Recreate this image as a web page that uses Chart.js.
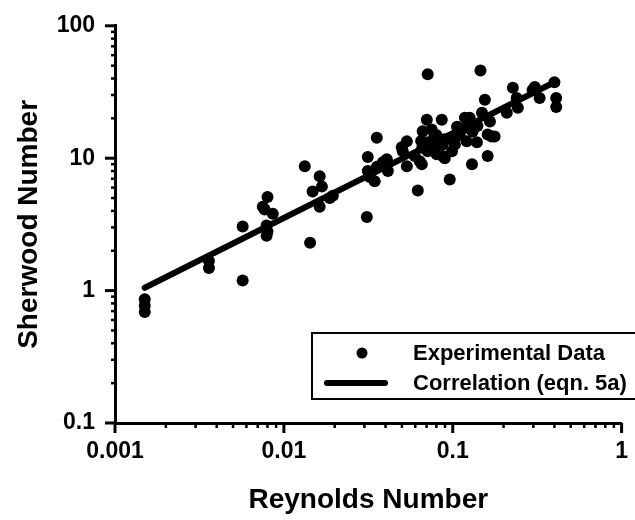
<!DOCTYPE html>
<html>
<head>
<meta charset="utf-8">
<script src="https://cdn.jsdelivr.net/npm/chart.js@4.4.1/dist/chart.umd.min.js"></script>
<style>
  body { margin: 0; background: #fff; }
  #wrap { width: 635px; height: 520px; }
</style>
</head>
<body>
<div id="wrap"><canvas id="chart" width="635" height="520"></canvas></div>
<script>
'use strict';

// experimental points
var reynolds = [
  0.0015, 0.0015, 0.0015, 0.0036, 0.0036, 0.0057, 0.0057,
  0.0075, 0.0080, 0.0086, 0.0079, 0.0080, 0.0079, 0.0077,
  0.0143, 0.0133, 0.0163, 0.0148, 0.0168, 0.0163, 0.0187, 0.0195,
  0.0355, 0.0314, 0.0355, 0.0385, 0.0345, 0.0314, 0.0323, 0.031, 0.0407, 0.0413,
  0.0535, 0.0499, 0.0596, 0.0535, 0.0656, 0.0506, 0.0638, 0.0621,
  0.0702, 0.0861, 0.0664, 0.0782, 0.0897, 0.0873, 0.0711, 0.0711, 0.0873, 0.0804, 0.0897,
  0.075, 0.065, 0.080, 0.066, 0.078,
  0.0711, 0.096, 0.099, 0.0987, 0.106, 0.103,
  0.126, 0.149, 0.121, 0.139, 0.161, 0.118, 0.131, 0.170, 0.130, 0.161,
  0.110, 0.140, 0.120,
  0.146, 0.155, 0.166, 0.177, 0.209, 0.227, 0.239, 0.243,
  0.306, 0.297, 0.327, 0.40, 0.41, 0.41
];
var sherwood = [
  0.86, 0.77, 0.69, 1.67, 1.48, 1.19, 3.05,
  4.3, 5.1, 3.8, 3.1, 2.8, 2.6, 4.1,
  2.3, 8.7, 7.3, 5.6, 6.1, 4.3, 5.0, 5.2,
  14.3, 10.2, 8.6, 9.3, 6.7, 8.0, 7.2, 3.6, 9.8, 8.0,
  13.4, 12.1, 10.4, 8.7, 9.0, 11.3, 9.5, 5.7,
  19.5, 19.5, 16.0, 12.7, 13.9, 10.4, 11.3, 13.2, 12.7, 10.7, 10.0,
  16.5, 13.5, 15.0, 12.0, 14.8,
  43, 6.9, 11.3, 13.9, 17.3, 12.7,
  20.2, 22.0, 13.4, 13.2, 15.1, 20.2, 15.9, 14.6, 9.0, 10.4,
  15.0, 17.5, 17.0,
  46, 27.6, 18.9, 14.6, 22.0, 34, 28.5, 24,
  34.5, 32.7, 28.5, 37.5, 28.5, 24.4
];

// correlation (eqn. 5a) end points
var corrRe = [0.0015, 0.40];
var corrSh = [1.05, 37.5];

// axis ticks
var xMajor = [0.001, 0.01, 0.1, 1];
var xLabels = ['0.001', '0.01', '0.1', '1'];
var yMajor = [0.1, 1, 10, 100];
var yLabels = ['0.1', '1', '10', '100'];
var minorSteps = [2, 3, 4, 5, 6, 7, 8, 9];

var legendNames = ['Experimental Data', 'Correlation (eqn. 5a)'];

function buildTicks(majors) {
  var out = [];
  majors.forEach(function (m, i) {
    out.push({ value: m, major: true });
    if (i < majors.length - 1) {
      minorSteps.forEach(function (s) { out.push({ value: m * s, major: false }); });
    }
  });
  return out;
}

function labelFor(value, majors, labels) {
  for (var i = 0; i < majors.length; i++) {
    if (Math.abs(Math.log10(value) - Math.log10(majors[i])) < 1e-6) return labels[i];
  }
  return '';
}

var FONT = '"Liberation Sans", Arial, sans-serif';

// tick marks: long for decades, short otherwise
var tickMarks = {
  id: 'tickMarks',
  afterDraw: function (chart) {
    var ctx = chart.ctx;
    var xs = chart.scales.x, ys = chart.scales.y;
    ctx.save();
    ctx.strokeStyle = '#000';
    xs.ticks.forEach(function (t) {
      var px = xs.getPixelForValue(t.value);
      ctx.lineWidth = t.major ? 3 : 2.5;
      ctx.beginPath();
      ctx.moveTo(px, xs.top);
      ctx.lineTo(px, xs.top + (t.major ? 10 : 5));
      ctx.stroke();
    });
    ys.ticks.forEach(function (t) {
      var py = ys.getPixelForValue(t.value);
      ctx.lineWidth = t.major ? 3 : 2.5;
      ctx.beginPath();
      ctx.moveTo(ys.right, py);
      ctx.lineTo(ys.right - (t.major ? 10 : 4), py);
      ctx.stroke();
    });
    ctx.restore();
  }
};

// boxed legend in the lower right
var boxLegend = {
  id: 'boxLegend',
  afterDraw: function (chart) {
    var ctx = chart.ctx;
    ctx.save();
    ctx.fillStyle = '#fff';
    ctx.fillRect(312, 333, 330, 66);
    ctx.strokeStyle = '#000';
    ctx.lineWidth = 2;
    ctx.strokeRect(312, 333, 330, 66);

    ctx.fillStyle = '#000';
    ctx.beginPath();
    ctx.arc(362, 353, 5.5, 0, Math.PI * 2);
    ctx.fill();

    ctx.lineWidth = 6;
    ctx.lineCap = 'round';
    ctx.beginPath();
    ctx.moveTo(327, 383);
    ctx.lineTo(385, 383);
    ctx.stroke();

    ctx.font = 'bold 22px ' + FONT;
    ctx.textBaseline = 'middle';
    ctx.fillText(legendNames[0], 413, 354);
    ctx.fillText(legendNames[1], 413, 384);
    ctx.restore();
  }
};

var points = reynolds.map(function (r, i) { return { x: r, y: sherwood[i] }; });
var corrLine = corrRe.map(function (r, i) { return { x: r, y: corrSh[i] }; });

new Chart(document.getElementById('chart').getContext('2d'), {
  type: 'scatter',
  data: {
    datasets: [
      {
        label: legendNames[0],
        data: points,
        backgroundColor: '#000',
        borderWidth: 0,
        pointRadius: 6,
        pointHoverRadius: 6
      },
      {
        type: 'line',
        label: legendNames[1],
        data: corrLine,
        borderColor: '#000',
        borderWidth: 6,
        borderCapStyle: 'round',
        pointRadius: 0,
        fill: false
      }
    ]
  },
  options: {
    responsive: false,
    animation: false,
    devicePixelRatio: 1,
    layout: { padding: { top: 20, right: 6, left: 0, bottom: 0 } },
    plugins: { legend: { display: false }, tooltip: { enabled: false } },
    scales: {
      x: {
        type: 'logarithmic',
        min: 0.001,
        max: 1,
        afterBuildTicks: function (s) { s.ticks = buildTicks(xMajor); },
        afterFit: function (s) { s.height = 97; },
        grid: { display: false },
        border: { display: true, color: '#000', width: 3 },
        ticks: {
          autoSkip: false,
          maxRotation: 0,
          padding: 7,
          color: '#000',
          font: { family: FONT, size: 23, weight: 'bold' },
          callback: function (v) { return labelFor(v, xMajor, xLabels); }
        },
        title: {
          display: true,
          text: 'Reynolds Number',
          color: '#000',
          font: { family: FONT, size: 28, weight: 'bold' },
          padding: { top: 0, bottom: 3 }
        }
      },
      y: {
        type: 'logarithmic',
        min: 0.1,
        max: 100,
        afterBuildTicks: function (s) { s.ticks = buildTicks(yMajor); },
        afterFit: function (s) { s.width = 115; },
        grid: { display: false },
        border: { display: true, color: '#000', width: 3 },
        ticks: {
          autoSkip: false,
          padding: 12,
          color: '#000',
          font: { family: FONT, size: 23, weight: 'bold' },
          callback: function (v) { return labelFor(v, yMajor, yLabels); }
        },
        title: {
          display: true,
          text: 'Sherwood Number',
          color: '#000',
          font: { family: FONT, size: 28, weight: 'bold' },
          padding: { top: 12, bottom: 0 }
        }
      }
    }
  },
  plugins: [tickMarks, boxLegend]
});
</script>
</body>
</html>
